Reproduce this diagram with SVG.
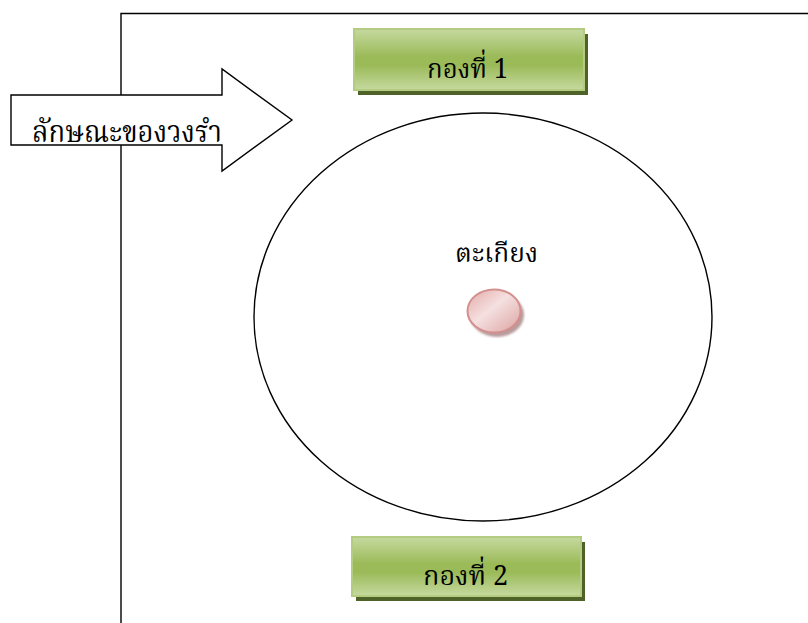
<svg xmlns="http://www.w3.org/2000/svg" width="808" height="623" viewBox="0 0 808 623">
<defs>
<linearGradient id="gGreen" x1="0" y1="0" x2="0" y2="1">
<stop offset="0" stop-color="#c6d9a0"/>
<stop offset="0.45" stop-color="#9bbb59"/>
<stop offset="0.6" stop-color="#9bbb59"/>
<stop offset="1" stop-color="#c6d9a0"/>
</linearGradient>
<linearGradient id="gPink" x1="0" y1="0" x2="1" y2="1">
<stop offset="0" stop-color="#e3a9a8"/>
<stop offset="0.45" stop-color="#f5e0e0"/>
<stop offset="1" stop-color="#dca2a1"/>
</linearGradient>
<filter id="blur1" x="-20%" y="-20%" width="140%" height="140%"><feGaussianBlur stdDeviation="1"/></filter>
</defs>
<style>
.line{fill:none;stroke:#000;stroke-width:1.4}
.shape{fill:#fff;stroke:#000;stroke-width:1.4}
.txt{font-family:"Angsana New","Kinnari","Norasi","Noto Serif Thai","Noto Sans Thai","Liberation Serif",serif;fill:#000}
.box{fill:url(#gGreen);stroke:#b4cc82;stroke-width:2}
.boxshadow{fill:#4f6228}
</style>
<rect width="808" height="623" fill="#fff"/>
<g id="frame">
<path class="line" d="M121,623 V13.5 H808"/>
</g>
<g id="arrow">
<polygon class="shape" points="11,95 222,95 222,69 292,120 222,171 222,145 11,145"/>
<text class="txt" x="32" y="142" font-size="31" textLength="190" lengthAdjust="spacingAndGlyphs">ลักษณะของวงรำ</text>
</g>
<g id="circle">
<ellipse class="shape" cx="483" cy="317" rx="229" ry="204"/>
</g>
<g id="group1">
<rect class="boxshadow" x="358" y="34" width="230" height="61"/>
<rect class="box" x="354" y="29" width="230" height="61"/>
<text class="txt" x="427" y="78" font-size="27" textLength="81" lengthAdjust="spacingAndGlyphs">กองที่ 1</text>
</g>
<g id="group2">
<rect class="boxshadow" x="356" y="542" width="229" height="59"/>
<rect class="box" x="352" y="537" width="229" height="59"/>
<text class="txt" x="423" y="585" font-size="27" textLength="85" lengthAdjust="spacingAndGlyphs">กองที่ 2</text>
</g>
<g id="lamp">
<text class="txt" x="455" y="262" font-size="27" textLength="83" lengthAdjust="spacingAndGlyphs">ตะเกียง</text>
<ellipse cx="497" cy="315" rx="27" ry="22" fill="#8a5a58" opacity="0.6" filter="url(#blur1)"/>
<ellipse cx="494" cy="311" rx="26.5" ry="21.5" fill="url(#gPink)" stroke="#d4908f" stroke-width="2"/>
</g>
</svg>
